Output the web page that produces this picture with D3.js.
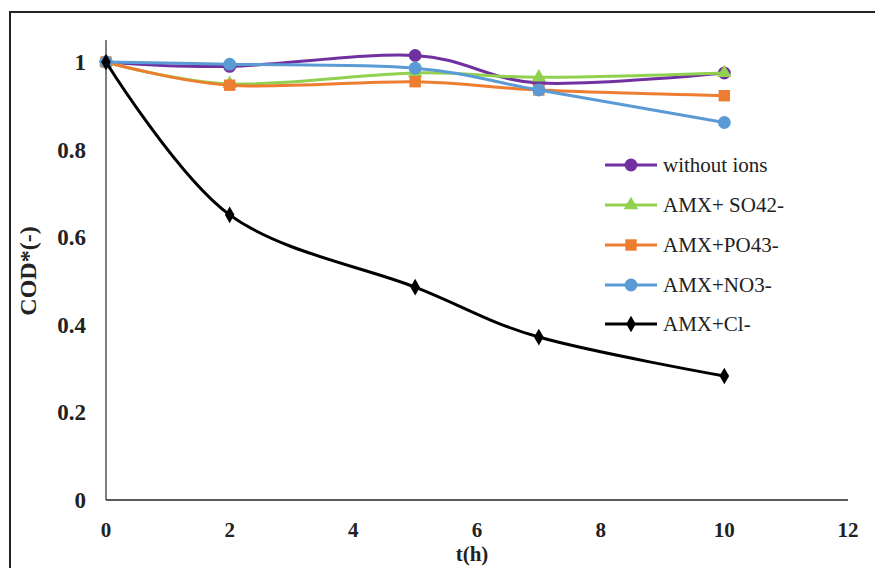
<!DOCTYPE html>
<html><head><meta charset="utf-8">
<script src="https://cdn.jsdelivr.net/npm/d3@7"></script>
<style>body{margin:0;background:#fff}svg{display:block}</style>
</head><body>
<svg id="c" width="875" height="568"></svg>
<script>
const times = [0, 2, 5, 7, 10];
const withoutIons = [1, 0.99, 1.015, 0.952, 0.975];
const so4 = [1, 0.95, 0.975, 0.965, 0.975];
const po4 = [1, 0.947, 0.955, 0.936, 0.923];
const no3 = [1, 0.995, 0.986, 0.936, 0.862];
const cl = [1, 0.651, 0.486, 0.372, 0.283];
const seriesNames = ["without ions", "AMX+ SO42-", "AMX+PO43-", "AMX+NO3-", "AMX+Cl-"];
const seriesColors = ["#7030A0", "#92D050", "#ED7D31", "#5B9BD5", "#000000"];
const seriesMarkers = ["circle", "triangle", "square", "circle", "diamond"];
const xTicks = [0, 2, 4, 6, 8, 10, 12];
const yTicks = [0, 0.2, 0.4, 0.6, 0.8, 1];

const font = "Liberation Serif";
const values = [withoutIons, so4, po4, no3, cl];
const svg = d3.select("#c");
const x = d3.scaleLinear().domain([0, 12]).range([106, 848]);
const y = d3.scaleLinear().domain([0, 1]).range([500, 62]);

svg.append("rect").attr("x", 10).attr("y", 12).attr("width", 900).attr("height", 600)
  .attr("fill", "none").attr("stroke", "#222").attr("stroke-width", 2);

svg.append("line").attr("x1", x(0)).attr("x2", x(0)).attr("y1", y(1.05)).attr("y2", y(0))
  .attr("stroke", "#555").attr("stroke-width", 1.5);
svg.append("line").attr("x1", x(0)).attr("x2", x(12)).attr("y1", y(0)).attr("y2", y(0))
  .attr("stroke", "#222").attr("stroke-width", 1.5);

svg.append("g").selectAll("text").data(yTicks).join("text")
  .attr("x", 86).attr("y", d => y(d)).attr("dy", "0.35em")
  .attr("text-anchor", "end").attr("font-family", font).attr("font-weight", "bold")
  .attr("font-size", 23).attr("fill", "#222")
  .text(d => d === 0 || d === 1 ? d : d3.format(".1f")(d));
svg.append("g").selectAll("text").data(xTicks).join("text")
  .attr("x", d => x(d)).attr("y", 530).attr("dy", "0.35em")
  .attr("text-anchor", "middle").attr("font-family", font).attr("font-weight", "bold")
  .attr("font-size", 21).attr("fill", "#222").text(d => d);
svg.append("text").attr("x", 472).attr("y", 554).attr("dy", "0.35em").attr("text-anchor", "middle")
  .attr("font-family", font).attr("font-weight", "bold").attr("font-size", 21).attr("fill", "#222").text("t(h)");
svg.append("text").attr("transform", "translate(28,271) rotate(-90)").attr("dy", "0.35em")
  .attr("text-anchor", "middle").attr("font-family", font).attr("font-weight", "bold")
  .attr("font-size", 24).attr("fill", "#222").text("COD*(-)");

const line = d3.line().x(d => x(d[0])).y(d => y(d[1])).curve(d3.curveCatmullRom.alpha(0));
const symType = {circle: d3.symbolCircle, triangle: d3.symbolTriangle, square: d3.symbolSquare, diamond: d3.symbolDiamond};
const symSize = {circle: 130, triangle: 90, square: 130, diamond: 80};

function marker(g, type, color, cx, cy) {
  g.append("path").attr("d", d3.symbol().type(symType[type]).size(symSize[type]))
    .attr("transform", `translate(${cx},${cy})`).attr("fill", color);
}

values.forEach((vals, i) => {
  const pts = times.map((t, j) => [t, vals[j]]);
  const g = svg.append("g");
  g.append("path").attr("d", line(pts)).attr("fill", "none")
    .attr("stroke", seriesColors[i]).attr("stroke-width", 3);
  pts.forEach(p => marker(g, seriesMarkers[i], seriesColors[i], x(p[0]), y(p[1])));
});

const legY = [165, 205, 245, 285, 324];
seriesNames.forEach((n, i) => {
  const g = svg.append("g");
  g.append("line").attr("x1", 605).attr("x2", 657).attr("y1", legY[i]).attr("y2", legY[i])
    .attr("stroke", seriesColors[i]).attr("stroke-width", 3);
  marker(g, seriesMarkers[i], seriesColors[i], 631, legY[i]);
  g.append("text").attr("x", 663).attr("y", legY[i]).attr("dy", "0.35em")
    .attr("font-family", font).attr("font-size", 21).attr("fill", "#222").text(n);
});
</script>
</body></html>
